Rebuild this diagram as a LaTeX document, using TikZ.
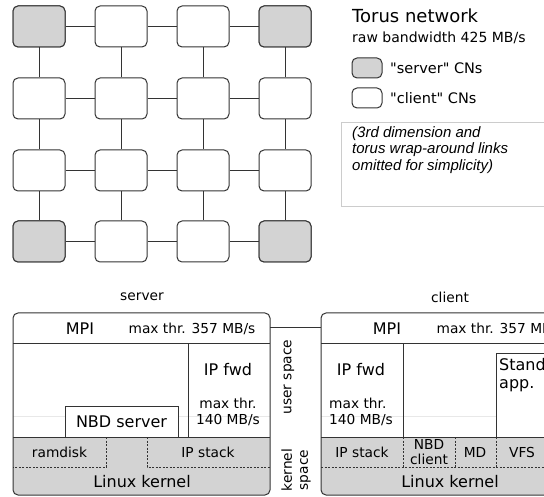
\documentclass[tikz,border=0pt]{standalone}
\usepackage{fontspec}
\setmainfont{DejaVu Sans}[Ligatures=TeXOff]
\newfontfamily\notefont{Liberation Sans}
\definecolor{cngray}{HTML}{D3D3D3}
\definecolor{edgec}{HTML}{333333}
\definecolor{faint}{HTML}{E8E8E8}
\definecolor{notebd}{HTML}{CCCCCC}
\begin{document}
\begin{tikzpicture}[x=1pt,y=-1pt,
  cn/.style={draw=edgec,line width=1pt,rounded corners=5pt,minimum width=52pt,minimum height=41pt,inner sep=0pt},
  srv/.style={cn,fill=cngray},
  cli/.style={cn,fill=white},
  link/.style={draw=edgec,line width=1pt},
  lg/.style={draw=edgec,line width=1pt,rounded corners=5pt,minimum width=30pt,minimum height=20pt,inner sep=0pt},
  txt/.style={inner sep=0pt,font=\fontsize{13.75}{16}\selectfont},
  big/.style={inner sep=0pt,font=\fontsize{16}{18}\selectfont},
  frame/.style={draw=edgec,line width=1pt},
  dsh/.style={draw=edgec,line width=0.8pt,dash pattern=on 2pt off 1.5pt}
]
\useasboundingbox (0,0) rectangle (544,497);

% ---------- torus grid ----------
\foreach \i/\x in {0/39,1/121,2/203,3/285}{
  \foreach \j/\y in {0/26.5,1/98.5,2/170.5,3/241.5}{
    \node[cli] (n\i\j) at (\x,\y) {};
  }
}
\node[srv] at (n00) {};
\node[srv] at (n30) {};
\node[srv] at (n03) {};
\node[srv] at (n33) {};
\foreach \j in {0,1,2,3}{
  \draw[link] (n0\j.east) -- (n1\j.west);
  \draw[link] (n1\j.east) -- (n2\j.west);
  \draw[link] (n2\j.east) -- (n3\j.west);
}
\foreach \i in {0,1,2,3}{
  \draw[link] (n\i0.south) -- (n\i1.north);
  \draw[link] (n\i1.south) -- (n\i2.north);
  \draw[link] (n\i2.south) -- (n\i3.north);
}

% ---------- legend ----------
\node[inner sep=0pt,anchor=west,font=\fontsize{18}{20}\selectfont] (title) at (352,16) {Torus network};
\node[inner sep=0pt,anchor=west,font=\fontsize{14}{16}\selectfont] (bw) at (352,38) {raw bandwidth 425 MB/s};
\node[lg,fill=cngray] (legs) at (367,68) {};
\node[lg,fill=white] (legc) at (367,98) {};
\node[inner sep=0pt,anchor=west,font=\fontsize{14.5}{16}\selectfont] (legst) at (390,68) {"server" CNs};
\node[inner sep=0pt,anchor=west,font=\fontsize{14.5}{16}\selectfont] (legct) at (390,98) {"client" CNs};
\node[draw=notebd,line width=0.8pt,anchor=north west,minimum width=230pt,minimum height=84pt,inner sep=0pt] (note) at (341,122) {};
\node[inner sep=0pt,anchor=north west,align=left,font=\notefont\itshape\fontsize{15}{16.5}\selectfont] (notetxt) at (352,126)
  {(3rd dimension and\\torus wrap-around links\\omitted for simplicity)};

% ---------- server ----------
\node[txt] (srvlabel) at (142,297) {server};
\begin{scope}
  \clip[rounded corners=5pt] (13,313) rectangle (270,495);
  \fill[cngray] (13,437) rectangle (270,495);
  \draw[faint,line width=0.8pt] (13,416) -- (270,416);
\end{scope}
\draw[frame] (13,344) -- (270,344);
\draw[frame] (188,344) -- (188,437);
\draw[frame,fill=white] (65,437) rectangle (178,406);
\node[big] (nbds) at (121.5,422) {NBD server};
\draw[frame] (13,437) -- (270,437);
\draw[dsh] (106,437) -- (106,467) -- (13,467);
\draw[dsh] (147,437) -- (147,467) -- (270,467);
\draw[frame,rounded corners=5pt] (13,313) rectangle (270,495);
\node[big] (smpi) at (80,328.5) {MPI};
\node[txt] (smax) at (192,328.5) {max thr. 357 MB/s};
\node[big] (sipf) at (228,370) {IP fwd};
\node[txt,align=center] (sipt) at (228,411.5) {max thr.\\140 MB/s};
\node[txt] (sram) at (59.5,452) {ramdisk};
\node[txt] (sips) at (208,452) {IP stack};
\node[big] (slk) at (142,482) {Linux kernel};

% ---------- middle ----------
\coordinate (srvR) at (270,328);
\coordinate (cliL) at (321,328);
\draw[frame] (srvR) -- (cliL);
\node[txt,rotate=90] (us) at (289,377) {user space};
\node[txt,rotate=90,align=center] (ks) at (296,470) {kernel\\space};

% ---------- client ----------
\node[txt] (clilabel) at (450,297) {client};
\begin{scope}
  \clip[rounded corners=5pt] (321,313) rectangle (578,495);
  \fill[cngray] (321,437) rectangle (578,495);
  \draw[faint,line width=0.8pt] (321,416) -- (578,416);
\end{scope}
\draw[frame] (321,344) -- (578,344);
\draw[frame] (403,344) -- (403,437);
\draw[frame,fill=white] (496,437) rectangle (600,354);
\draw[frame] (321,437) -- (578,437);
\draw[dsh] (403,437) -- (403,467);
\draw[dsh] (455,437) -- (455,467);
\draw[dsh] (496,437) -- (496,467);
\draw[dsh] (321,467) -- (578,467);
\draw[frame,rounded corners=5pt] (321,313) rectangle (578,495);
\node[big] (cmpi) at (387,328.5) {MPI};
\node[txt] (cmax) at (500,328.5) {max thr. 357 MB/s};
\node[big] (cipf) at (361,370) {IP fwd};
\node[txt,align=left,anchor=west] (cipt) at (329,411.5) {max thr.\\140 MB/s};
\node[big,align=left,anchor=north west] (capp) at (499,358) {Standalone\\app.};
\node[txt] (cips) at (362,452) {IP stack};
\node[txt,align=center,font=\fontsize{13.75}{15}\selectfont] (cnbd) at (429,452) {NBD\\client};
\node[txt] (cmd) at (475,452) {MD};
\node[txt] (cvfs) at (522,452) {VFS};
\node[big] (clk) at (450,482) {Linux kernel};
\end{tikzpicture}
\end{document}
